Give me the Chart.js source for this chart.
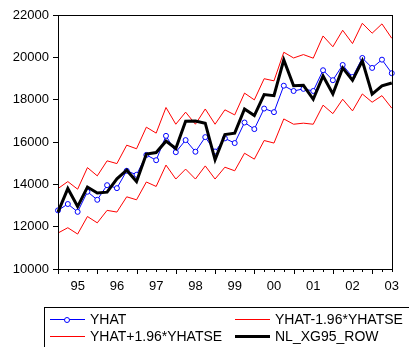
<!DOCTYPE html>
<html>
<head>
<meta charset="utf-8">
<script src="https://cdn.jsdelivr.net/npm/chart.js@4.4.1/dist/chart.umd.min.js"></script>
<style>
  body { margin: 0; background: #fff; }
  #wrap { position: relative; width: 409px; height: 347px; overflow: hidden; }
  #legend { position: absolute; left: 44px; top: 307px; width: 390px; height: 60px;
            border: 1px solid #000; box-sizing: border-box;
            font: 14px "Liberation Sans", Arial, sans-serif; color: #000; }
  .item { position: absolute; height: 16px; line-height: 16px; white-space: nowrap; }
  .swatch { position: absolute; top: 8px; width: 35px; }
  .dot { position: absolute; top: -3px; left: 14px; width: 4px; height: 4px;
         border: 1px solid #00f; border-radius: 50%; background: #fff; }
  .label { position: absolute; left: 40px; top: 0; }
</style>
</head>
<body>
<div id="wrap">
  <canvas id="chart" width="409" height="347"></canvas>
  <div id="legend"></div>
</div>
<script>
// quarterly data, 1995Q1 .. 2003Q3
const years = ['95', '96', '97', '98', '99', '00', '01', '02', '03'];
const quarters = [];
years.forEach(y => { for (let q = 1; q <= 4; q++) quarters.push(y + 'Q' + q); });
quarters.length = 35;

const yhat = [12770, 13070, 12700, 13650, 13270, 13960, 13820, 14640, 14450, 15390,
              15140, 16290, 15520, 16090, 15540, 16230, 15550, 16170, 15950, 16920,
              16610, 17580, 17410, 18660, 18410, 18510, 18410, 19390, 18920, 19640,
              19070, 19970, 19500, 19890, 19250];
const yhatLow = [11700, 11950, 11650, 12480, 12180, 12770, 12690, 13410, 13270, 14110,
                 13900, 14910, 14250, 14720, 14250, 14870, 14250, 14810, 14640, 15470,
                 15190, 16070, 15950, 17090, 16840, 16890, 16840, 17740, 17340, 18020,
                 17470, 18270, 17880, 18190, 17600];
const yhatHigh = [13800, 14130, 13770, 14790, 14400, 15110, 14980, 15850, 15680, 16700,
                  16420, 17630, 16840, 17410, 16840, 17560, 16840, 17520, 17280, 18310,
                  17990, 18990, 18890, 20240, 19970, 20130, 19960, 21010, 20500, 21280,
                  20650, 21610, 21140, 21580, 20900];
const actual = [12690, 13800, 12950, 13870, 13590, 13630, 14260, 14670, 14130, 15430,
                15500, 16040, 15690, 16980, 16990, 16890, 15160, 16350, 16420, 17560,
                17250, 18240, 18190, 19880, 18660, 18680, 18020, 19120, 18270, 19500,
                18920, 19840, 18260, 18650, 18790];

const yTicks = [10000, 12000, 14000, 16000, 18000, 20000, 22000];

const BLUE = '#0000ff';
const RED = '#ff0000';
const FONT = '"Liberation Sans", Arial, sans-serif';

// frame + quarter tick marks below the x axis
const framePlugin = {
    id: 'frame',
    afterDraw: (chart) => {
        const { ctx, chartArea } = chart;
        const xs = chart.scales.x;
        ctx.save();
        ctx.strokeStyle = '#000';
        ctx.lineWidth = 1;
        ctx.strokeRect(Math.round(chartArea.left) + 0.5, Math.round(chartArea.top) + 0.5,
                       Math.round(chartArea.right - chartArea.left), Math.round(chartArea.bottom - chartArea.top));
        ctx.beginPath();
        quarters.forEach((q, i) => {
            const x = Math.round(xs.getPixelForValue(i)) + 0.5;
            const len = (i % 4 === 0) ? 5 : 3;
            ctx.moveTo(x, Math.round(chartArea.bottom));
            ctx.lineTo(x, Math.round(chartArea.bottom) + len);
        });
        ctx.stroke();
        ctx.restore();
    }
};

const ctx = document.getElementById('chart').getContext('2d');
new Chart(ctx, {
    type: 'line',
    data: {
        labels: quarters,
        datasets: [
            { label: 'YHAT-1.96*YHATSE', data: yhatLow, borderColor: RED, borderWidth: 1, pointRadius: 0, order: 3 },
            { label: 'YHAT+1.96*YHATSE', data: yhatHigh, borderColor: RED, borderWidth: 1, pointRadius: 0, order: 3 },
            { label: 'YHAT', data: yhat, borderColor: BLUE, borderWidth: 1, pointRadius: 2.5,
              pointBorderColor: BLUE, pointBackgroundColor: '#fff', pointBorderWidth: 1, order: 2 },
            { label: 'NL_XG95_ROW', data: actual, borderColor: '#000', borderWidth: 3, pointRadius: 0, order: 1 }
        ]
    },
    options: {
        responsive: false,
        animation: false,
        events: [],
        layout: { padding: { top: 15, right: 12, left: 0, bottom: 0 } },
        plugins: { legend: { display: false }, tooltip: { enabled: false } },
        scales: {
            x: {
                offset: false,
                grid: { display: false, drawTicks: false },
                border: { display: false },
                afterFit: (scale) => { scale.height = 78; },
                ticks: {
                    autoSkip: false, maxRotation: 0, padding: 10, color: '#000',
                    font: { family: FONT, size: 13 },
                    callback: (v, i) => (i % 4 === 2) ? years[Math.floor(i / 4)] : ''
                }
            },
            y: {
                min: 10000, max: 22000,
                afterFit: (scale) => { scale.width = 58; },
                afterBuildTicks: (scale) => { scale.ticks = yTicks.map(v => ({ value: v })); },
                grid: { drawOnChartArea: false, tickLength: 5, color: '#000' },
                border: { color: '#000' },
                ticks: { padding: 4, color: '#000', font: { family: FONT, size: 13 },
                         callback: (v) => String(v) }
            }
        }
    },
    plugins: [framePlugin]
});

// legend, two columns like the original
const legendItems = [
    { text: 'YHAT', color: BLUE, width: 1, dot: true, col: 0, row: 0 },
    { text: 'YHAT-1.96*YHATSE', color: RED, width: 1, col: 1, row: 0 },
    { text: 'YHAT+1.96*YHATSE', color: RED, width: 1, col: 0, row: 1 },
    { text: 'NL_XG95_ROW', color: '#000', width: 3, col: 1, row: 1 }
];
const legend = document.getElementById('legend');
legendItems.forEach(it => {
    const el = document.createElement('div');
    el.className = 'item';
    el.style.left = (it.col === 0 ? 5 : 190) + 'px';
    el.style.top = (it.row === 0 ? 3 : 20) + 'px';
    const sw = document.createElement('div');
    sw.className = 'swatch';
    sw.style.borderTop = it.width + 'px solid ' + it.color;
    sw.style.marginTop = (-Math.floor(it.width / 2)) + 'px';
    if (it.dot) {
        const d = document.createElement('div');
        d.className = 'dot';
        sw.appendChild(d);
    }
    const lb = document.createElement('span');
    lb.className = 'label';
    lb.textContent = it.text;
    el.appendChild(sw);
    el.appendChild(lb);
    legend.appendChild(el);
});
</script>
</body>
</html>
